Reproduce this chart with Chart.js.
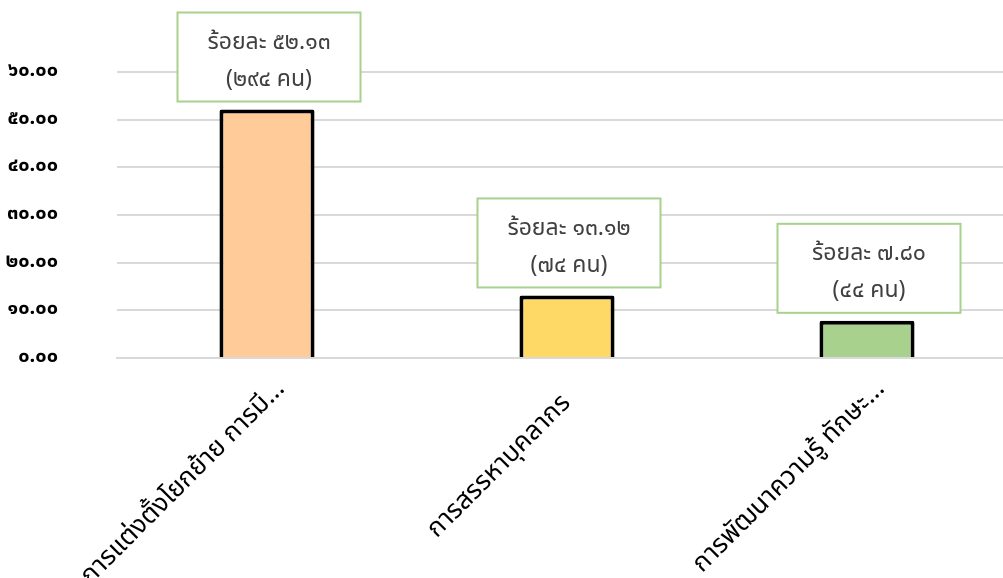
<!DOCTYPE html>
<html>
<head>
<meta charset="utf-8">
<script src="https://cdn.jsdelivr.net/npm/chart.js@4.4.0/dist/chart.umd.min.js"></script>
<style>
  html, body { margin: 0; padding: 0; background: #fff; overflow: hidden; }
  #wrap { width: 1017px; height: 578px; }
</style>
</head>
<body>
<div id="wrap"><canvas id="myChart" width="1017" height="578"></canvas></div>
<script>
const categories = ['การแต่งตั้งโยกย้าย การมี...', 'การสรรหาบุคลากร', 'การพัฒนาความรู้ ทักษะ...'];
const percents = [52.13, 13.12, 7.80];
const people = [294, 74, 44];
const yTicks = [0, 10, 20, 30, 40, 50, 60];

const thaiFont = "'Noto Sans Thai', 'Noto Sans', 'DejaVu Sans', sans-serif";
const thaiDigits = '๐๑๒๓๔๕๖๗๘๙';
const toThai = (s) => String(s).replace(/[0-9]/g, d => thaiDigits[d]);

// shorter rotated labels sit a bit further down the slant, like the original
const measureCtx = document.createElement('canvas').getContext('2d');
measureCtx.font = '26px ' + thaiFont;
const longest = Math.max(...categories.map(c => measureCtx.measureText(c).width));
const shiftedLabel = (text) => {
  let s = text;
  const w = measureCtx.measureText(text).width;
  const target = w + (longest - w) * 0.29;
  while (measureCtx.measureText(s + ' ').width <= target) s += ' ';
  return s;
};

// boxed labels above each bar
const boxLabels = {
  id: 'boxLabels',
  afterDatasetsDraw: (chart) => {
    const ctx = chart.ctx;
    const meta = chart.getDatasetMeta(0);
    meta.data.forEach((bar, i) => {
      const w = 183, h = 89;
      const bottom = bar.y - 8;
      const left = bar.x + 2 - w / 2;
      const top = bottom - h;
      ctx.save();
      ctx.fillStyle = '#ffffff';
      ctx.fillRect(left, top, w, h);
      ctx.strokeStyle = '#a9d18e';
      ctx.lineWidth = 2;
      ctx.strokeRect(left, top, w, h);
      ctx.fillStyle = '#404040';
      ctx.font = '23px ' + thaiFont;
      ctx.textAlign = 'center';
      ctx.textBaseline = 'middle';
      ctx.fillText('ร้อยละ ' + toThai(percents[i].toFixed(2)), left + w / 2, top + 32);
      ctx.fillText('(' + toThai(people[i]) + ' คน)', left + w / 2, top + 69);
      ctx.restore();
    });
  }
};

const ctx = document.getElementById('myChart').getContext('2d');
const chart = new Chart(ctx, {
  type: 'bar',
  data: {
    labels: categories,
    datasets: [{
      data: percents,
      backgroundColor: ['#ffcc99', '#ffd966', '#a9d18e'],
      borderColor: '#000000',
      borderWidth: 4,
      borderRadius: 2,
      categoryPercentage: 1,
      barPercentage: 0.317
    }]
  },
  options: {
    responsive: false,
    animation: false,
    layout: { padding: { top: 72, right: 0, left: 0, bottom: 0 } },
    plugins: {
      legend: { display: false },
      tooltip: { enabled: false },
      title: { display: false }
    },
    scales: {
      x: {
        grid: { display: false },
        border: { display: true, color: '#d9d9d9', width: 2 },
        ticks: {
          autoSkip: false,
          maxRotation: 45,
          minRotation: 45,
          labelOffset: 15,
          padding: 9,
          color: '#000000',
          font: { family: thaiFont, size: 26 },
          callback: function (v) { return shiftedLabel(this.getLabelForValue(v)); }
        },
        afterFit: (scale) => { scale.height = 220; }
      },
      y: {
        min: 0,
        max: 60,
        afterBuildTicks: (scale) => { scale.ticks = yTicks.map(v => ({ value: v })); },
        grid: { color: '#d9d9d9', lineWidth: 2, drawTicks: false },
        border: { display: false },
        ticks: {
          padding: 59,
          color: '#000000',
          font: { family: thaiFont, size: 20, weight: 'bold' },
          callback: (v) => toThai(Number(v).toFixed(2))
        },
        afterFit: (scale) => { scale.width = 117; }
      }
    }
  },
  plugins: [boxLabels]
});
</script>
</body>
</html>
